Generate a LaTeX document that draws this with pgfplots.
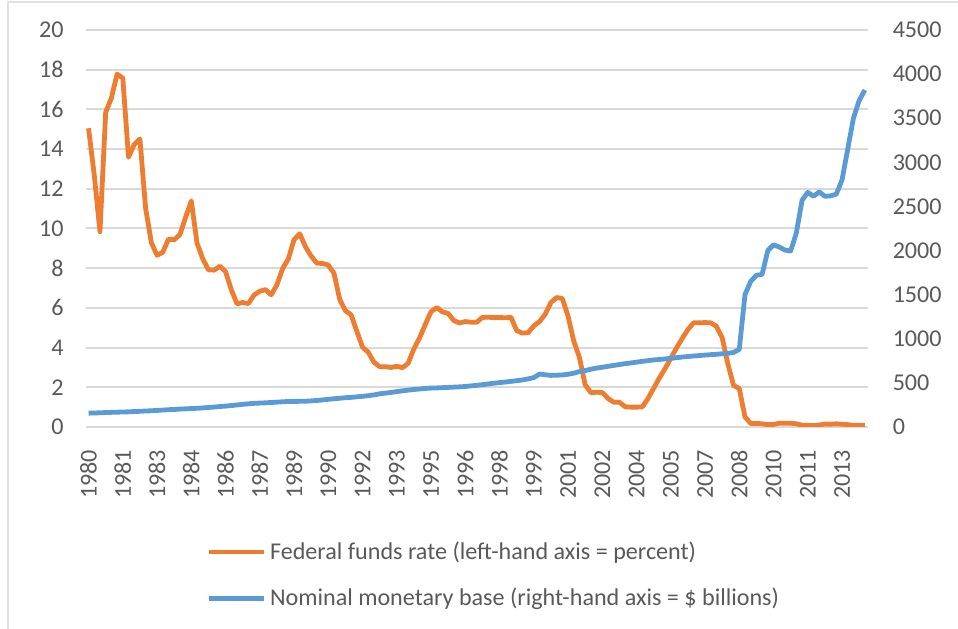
\documentclass[border=0pt]{standalone}
\usepackage{pgfplots}
\pgfplotsset{compat=1.18}
\usepackage{pgfplotstable}
\usepackage{fontspec}
\setmainfont{Carlito}
\definecolor{ffr}{HTML}{ED7D31}
\definecolor{mb}{HTML}{5B9BD5}
\definecolor{txt}{HTML}{595959}
\definecolor{grd}{HTML}{D9D9D9}
\pgfplotstableread{
t ffr mb
1980 15.05 157
1980.25 12.69 159
1980.5 9.84 161
1980.75 15.85 164
1981 16.57 166
1981.25 17.78 168
1981.5 17.58 170
1981.75 13.59 172
1982 14.23 175
1982.25 14.51 178
1982.5 11.01 181
1982.75 9.29 184
1983 8.65 188
1983.25 8.80 192
1983.5 9.46 196
1983.75 9.43 199
1984 9.69 203
1984.25 10.56 206
1984.5 11.39 209
1984.75 9.27 212
1985 8.48 216
1985.25 7.92 221
1985.5 7.90 226
1985.75 8.10 232
1986 7.83 237
1986.25 6.92 243
1986.5 6.21 250
1986.75 6.27 257
1987 6.22 263
1987.25 6.65 268
1987.5 6.84 271
1987.75 6.92 274
1988 6.66 278
1988.25 7.16 282
1988.5 7.98 286
1988.75 8.47 289
1989 9.44 290
1989.25 9.73 291
1989.5 9.08 292
1989.75 8.61 296
1990 8.25 301
1990.25 8.24 307
1990.5 8.16 314
1990.75 7.74 320
1991 6.43 326
1991.25 5.86 332
1991.5 5.65 336
1991.75 4.82 342
1992 4.02 348
1992.25 3.77 355
1992.5 3.26 364
1992.75 3.04 376
1993 3.04 384
1993.25 3.00 392
1993.5 3.06 401
1993.75 2.99 410
1994 3.21 418
1994.25 3.94 425
1994.5 4.49 431
1994.75 5.17 437
1995 5.81 441
1995.25 6.02 443
1995.5 5.80 446
1995.75 5.72 449
1996 5.36 452
1996.25 5.24 455
1996.5 5.31 459
1996.75 5.28 466
1997 5.28 472
1997.25 5.52 480
1997.5 5.53 488
1997.75 5.51 496
1998 5.52 503
1998.25 5.50 510
1998.5 5.53 517
1998.75 4.86 525
1999 4.73 533
1999.25 4.75 545
1999.5 5.09 560
1999.75 5.31 600
2000 5.68 592
2000.25 6.27 585
2000.5 6.52 587
2000.75 6.47 590
2001 5.59 598
2001.25 4.33 610
2001.5 3.50 628
2001.75 2.13 640
2002 1.73 655
2002.25 1.75 668
2002.5 1.74 677
2002.75 1.44 688
2003 1.25 698
2003.25 1.25 708
2003.5 1.02 718
2003.75 1.00 726
2004 1.00 735
2004.25 1.01 744
2004.5 1.43 752
2004.75 1.95 760
2005 2.47 765
2005.25 2.94 772
2005.5 3.46 778
2005.75 3.98 786
2006 4.46 793
2006.25 4.91 799
2006.5 5.25 805
2006.75 5.25 810
2007 5.26 815
2007.25 5.25 820
2007.5 5.07 824
2007.75 4.50 830
2008 3.18 835
2008.25 2.09 845
2008.5 1.94 880
2008.75 0.51 1500
2009 0.18 1650
2009.25 0.18 1720
2009.5 0.16 1730
2009.75 0.12 2000
2010 0.13 2065
2010.25 0.19 2040
2010.5 0.19 2005
2010.75 0.19 1995
2011 0.16 2200
2011.25 0.09 2570
2011.5 0.08 2660
2011.75 0.07 2615
2012 0.10 2665
2012.25 0.15 2615
2012.5 0.14 2620
2012.75 0.16 2640
2013 0.14 2800
2013.25 0.12 3150
2013.5 0.08 3500
2013.75 0.09 3700
2014 0.07 3820
}\data
\begin{document}
\begin{tikzpicture}
\path[use as bounding box] (0,0) rectangle (479bp,314.5bp);
\draw[grd!80!white, line width=0.6bp] (4bp,0) -- (4bp,313.5bp) -- (479bp,313.5bp);
\pgfplotsset{
  every axis/.append style={
    scale only axis, width=391bp, height=198.5bp,
    at={(42.85bp,101bp)}, anchor=south west,
    xmin=1979.875, xmax=2014.125,
    font=\fontsize{12.1}{14}\selectfont,
    tick label style={text=txt},
    /pgf/number format/assume math mode=true,
    /pgf/number format/1000 sep={},
    major tick length=0pt,
  }
}
\begin{axis}[
  ymin=0, ymax=20, ytick={0,2,...,20},
  axis line style={draw=none},
  ymajorgrids, grid style={grd, line width=1bp},
  xtick={1980,1981.5,...,2013},
  xticklabels={1980,1981,1983,1984,1986,1987,1989,1990,1992,1993,1995,1996,1998,1999,2001,2002,2004,2005,2007,2008,2010,2011,2013},
  xticklabel style={rotate=90, anchor=east},
  xticklabel shift=8bp,
  yticklabel style={xshift=-7.5bp},
]
\addplot[ffr, line width=2.4bp, line join=round] table[x=t, y=ffr] {\data};
\end{axis}
\begin{axis}[
  ymin=0, ymax=4500, ytick={0,500,...,4500},
  axis x line=none, axis y line*=right,
  axis line style={draw=none},
  yticklabel style={xshift=9bp},
  legend style={at={(0.146,-0.268)}, anchor=north west, draw=none, fill=none,
    font=\fontsize{12.1}{14}\selectfont, text=txt, row sep=9bp,
    cells={anchor=west}},
  legend image code/.code={\draw[#1] (0bp,0bp) -- (27.5bp,0bp);},
]
\addlegendimage{ffr, line width=2.4bp}
\addlegendentry{Federal funds rate (left-hand axis = percent)}
\addplot[mb, line width=2.4bp, line join=round] table[x=t, y=mb] {\data};
\addlegendentry{Nominal monetary base (right-hand axis = \$ billions)}
\end{axis}
\end{tikzpicture}
\end{document}
